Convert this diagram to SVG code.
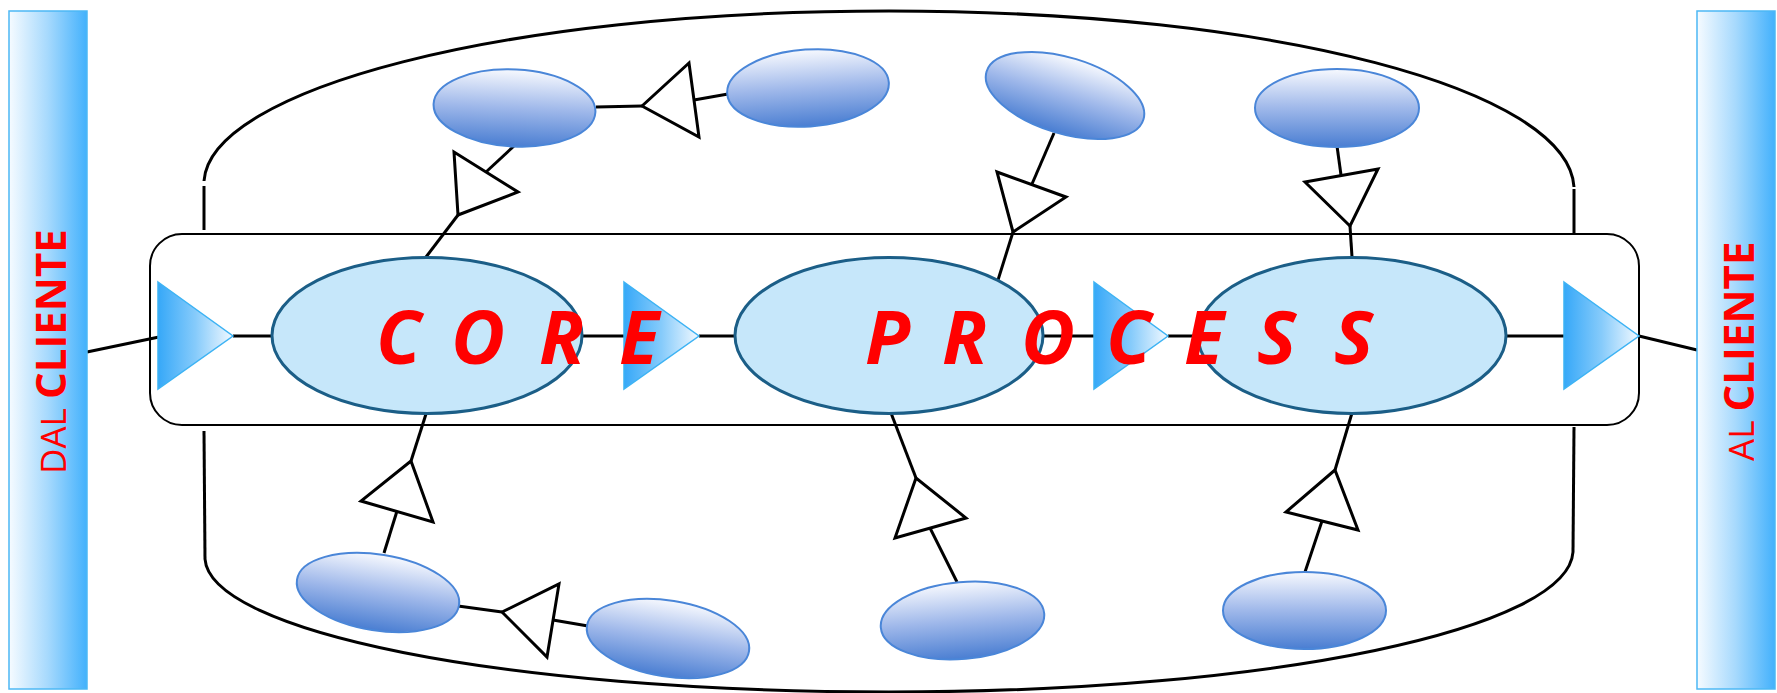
<svg xmlns="http://www.w3.org/2000/svg" width="1777" height="693" viewBox="0 0 1777 693">
<defs>
<linearGradient id="barG" x1="0" y1="0" x2="1" y2="0"><stop offset="0" stop-color="#f6fbff"/><stop offset="0.5" stop-color="#a6d9fd"/><stop offset="1" stop-color="#43b1fc"/></linearGradient>
<linearGradient id="triG" x1="0" y1="0" x2="1" y2="0"><stop offset="0" stop-color="#36a8f8"/><stop offset="0.5" stop-color="#86cbfb"/><stop offset="1" stop-color="#f2f9ff"/></linearGradient>
<linearGradient id="subG" x1="0" y1="0" x2="0" y2="1"><stop offset="0" stop-color="#f7f9fe"/><stop offset="0.5" stop-color="#9fb8ea"/><stop offset="1" stop-color="#4a7ed2"/></linearGradient>
<style>
.bar{fill:url(#barG);stroke:#4cb8f5;stroke-width:1.5}
.btri{fill:url(#triG);stroke:#3db3f4;stroke-width:1.5}
.main{fill:#c6e7fa;stroke:#1b5e87;stroke-width:3}
.sub{fill:url(#subG);stroke:#4a86d8;stroke-width:2}
.ln{fill:none;stroke:#000;stroke-width:3;stroke-linecap:butt}
.otri{fill:#fff;stroke:#000;stroke-width:3;stroke-linejoin:miter}
.frame{fill:none;stroke:#000;stroke-width:2}
.side{font-family:"Open Sans","DejaVu Sans",sans-serif;fill:#ff0000}
.big{font-family:"Open Sans","DejaVu Sans",sans-serif;font-weight:bold;font-style:italic;font-size:74px;fill:#ff0000}
</style>
</defs>

<g id="frame">
<rect class="frame" x="150" y="234" width="1489" height="191" rx="32" ry="32"/>
</g>

<g id="connectors">
<path class="ln" d="M204,181 C210,90 500,11 889,11 C1278,11 1568,90 1574,187"/>
<line class="ln" x1="204" y1="186" x2="204" y2="230"/>
<line class="ln" x1="1574" y1="189" x2="1574" y2="234"/>
<line class="ln" x1="204" y1="431" x2="205" y2="559"/>
<line class="ln" x1="1574" y1="427" x2="1573" y2="552"/>
<path class="ln" d="M205,559 C210,631 500,692 889,692 C1278,692 1568,628 1573,552"/>

<line class="ln" x1="87" y1="352" x2="159" y2="337"/>
<line class="ln" x1="233" y1="336" x2="272" y2="336"/>
<line class="ln" x1="582" y1="336" x2="624" y2="336"/>
<line class="ln" x1="699" y1="336" x2="736" y2="336"/>
<line class="ln" x1="1042" y1="336" x2="1094" y2="336"/>
<line class="ln" x1="1168" y1="336" x2="1199" y2="336"/>
<line class="ln" x1="1505" y1="336" x2="1564" y2="336"/>
<line class="ln" x1="1639" y1="336" x2="1697" y2="350"/>

<line class="ln" x1="426" y1="257" x2="458" y2="215"/>
<line class="ln" x1="486" y1="172" x2="514" y2="146"/>
<line class="ln" x1="596" y1="107" x2="642" y2="106"/>
<line class="ln" x1="694" y1="100" x2="728" y2="94"/>
<line class="ln" x1="1054" y1="133" x2="1032" y2="184"/>
<line class="ln" x1="1013" y1="232" x2="998" y2="280"/>
<line class="ln" x1="1337" y1="146" x2="1341" y2="175"/>
<line class="ln" x1="1350" y1="226" x2="1352" y2="257"/>
<line class="ln" x1="426" y1="414" x2="411" y2="461"/>
<line class="ln" x1="397" y1="511" x2="384" y2="553"/>
<line class="ln" x1="458" y1="606" x2="502" y2="612"/>
<line class="ln" x1="553" y1="620" x2="588" y2="626"/>
<line class="ln" x1="891" y1="413" x2="916" y2="478"/>
<line class="ln" x1="930" y1="528" x2="957" y2="582"/>
<line class="ln" x1="1352" y1="413" x2="1335" y2="470"/>
<line class="ln" x1="1322" y1="521" x2="1305" y2="572"/>

<polygon class="otri" points="458,215 454,152 518,192"/>
<polygon class="otri" points="642,106 689,63 699,137"/>
<polygon class="otri" points="1013,232 997,172 1066,197"/>
<polygon class="otri" points="1350,226 1305,182 1378,169"/>
<polygon class="otri" points="411,461 361,501 433,522"/>
<polygon class="otri" points="502,612 559,584 547,657"/>
<polygon class="otri" points="916,478 895,538 966,518"/>
<polygon class="otri" points="1335,470 1286,512 1358,530"/>
</g>

<g id="dal-cliente">
<rect class="bar" x="9" y="11" width="78" height="678"/>
<text class="side" transform="translate(66,474) rotate(-90)"><tspan font-size="35">DAL </tspan><tspan font-size="42" font-weight="bold">CLIENTE</tspan></text>
</g>
<g id="al-cliente">
<rect class="bar" x="1697" y="11" width="78" height="678"/>
<text class="side" transform="translate(1754,461) rotate(-90)"><tspan font-size="35">AL </tspan><tspan font-size="42" font-weight="bold">CLIENTE</tspan></text>
</g>

<g id="in-arrow"><polygon class="btri" points="158,282 233,336 158,389"/></g>
<g id="arrow-2"><polygon class="btri" points="624,282 699,336 624,389"/></g>
<g id="arrow-3"><polygon class="btri" points="1094,282 1168,336 1094,389"/></g>
<g id="out-arrow"><polygon class="btri" points="1564,282 1639,336 1564,389"/></g>

<g id="process-1"><ellipse class="main" cx="427" cy="335.5" rx="155" ry="78"/></g>
<g id="process-2"><ellipse class="main" cx="889" cy="335.5" rx="154" ry="78"/></g>
<g id="process-3"><ellipse class="main" cx="1352" cy="335.5" rx="154" ry="78"/></g>

<g id="sub-a"><ellipse class="sub" cx="514.5" cy="108" rx="81" ry="38.5" transform="rotate(3 514.5 108)"/></g>
<g id="sub-b"><ellipse class="sub" cx="808" cy="88" rx="81" ry="38.5" transform="rotate(-4 808 88)"/></g>
<g id="sub-c"><ellipse class="sub" cx="1065" cy="95.5" rx="82" ry="38" transform="rotate(17 1065 95.5)"/></g>
<g id="sub-d"><ellipse class="sub" cx="1337" cy="108" rx="82" ry="39"/></g>
<g id="sub-e"><ellipse class="sub" cx="378" cy="592.5" rx="82" ry="38" transform="rotate(9 378 592.5)"/></g>
<g id="sub-f"><ellipse class="sub" cx="668" cy="638.5" rx="82" ry="38" transform="rotate(9 668 638.5)"/></g>
<g id="sub-g"><ellipse class="sub" cx="962.5" cy="620.5" rx="82" ry="38.5" transform="rotate(-5 962.5 620.5)"/></g>
<g id="sub-h"><ellipse class="sub" cx="1304.5" cy="610.5" rx="81.5" ry="38.5"/></g>

<g id="title">
<text class="big" x="376 424 451 505 539 585 619" y="364">C O R E</text>
<text class="big" x="865 912 942 990 1021 1071 1106 1152 1184 1226 1257 1302 1334" y="364">P R O C E S S</text>
</g>
</svg>
